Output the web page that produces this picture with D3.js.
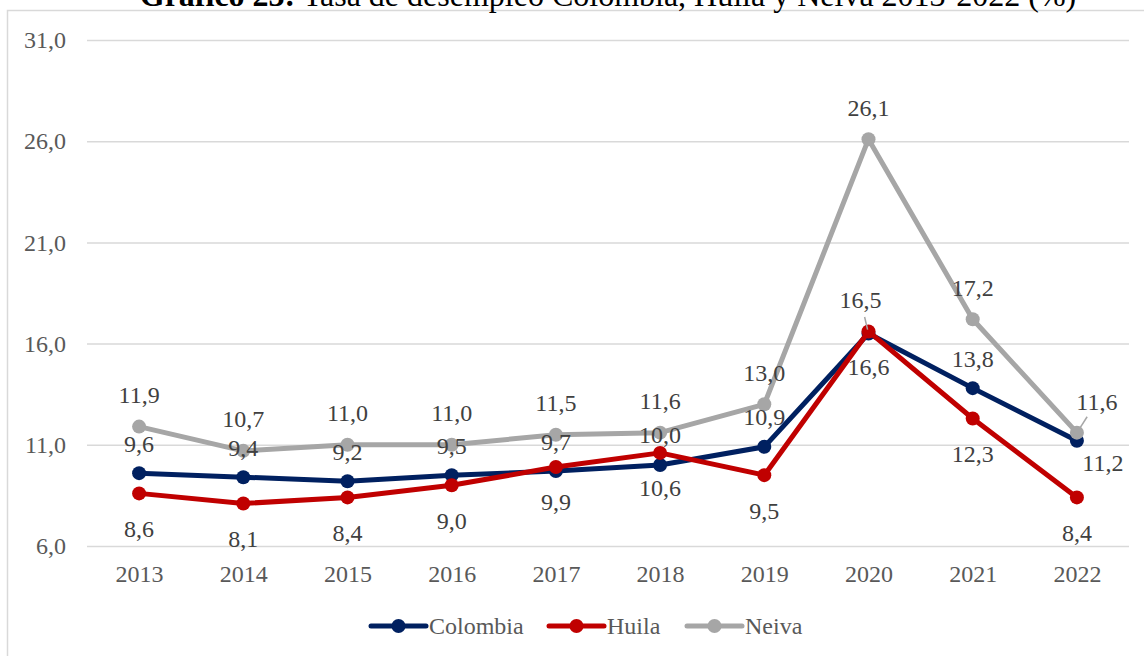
<!DOCTYPE html>
<html>
<head>
<meta charset="utf-8">
<script src="https://cdn.jsdelivr.net/npm/d3@7"></script>
<style>
  body { margin: 0; background: #fff; }
  svg { display: block; font-family: "Liberation Serif", "Times New Roman", serif; }
</style>
</head>
<body>
<svg id="chart" width="1144" height="656"></svg>
<script>
const years = ["2013","2014","2015","2016","2017","2018","2019","2020","2021","2022"];
const colombia = [9.6, 9.4, 9.2, 9.5, 9.7, 10.0, 10.9, 16.5, 13.8, 11.2];
const huila    = [8.6, 8.1, 8.4, 9.0, 9.9, 10.6, 9.5, 16.6, 12.3, 8.4];
const neiva    = [11.9, 10.7, 11.0, 11.0, 11.5, 11.6, 13.0, 26.1, 17.2, 11.6];
const yTicks   = [6, 11, 16, 21, 26, 31];
const seriesNames = ["Colombia", "Huila", "Neiva"];

const colors = { Colombia: "#002060", Huila: "#C00000", Neiva: "#A6A6A6" };
const series = [
  { name: "Colombia", values: colombia, dy: -30 },
  { name: "Huila", values: huila, dy: 35 },
  { name: "Neiva", values: neiva, dy: -32 }
];
// label adjustments: [series, yearIndex] -> {dx, dy, leader}
const special = {
  "Colombia-7": { dx: -8, dy: -34, leader: true },
  "Colombia-9": { dx: 26, dy: 22 },
  "Neiva-9": { dx: 20, dy: -31, leader: true }
};

const svg = d3.select("#chart");
const fmt = v => v.toFixed(1).replace(".", ",");
const FS = 24;

// frame
svg.append("rect").attr("x", 7.5).attr("y", 10.5).attr("width", 1200).attr("height", 700)
  .attr("fill", "none").attr("stroke", "#d9d9d9").attr("stroke-width", 1.5);

// title
const title = svg.append("text").attr("x", 608).attr("y", 6).attr("text-anchor", "middle")
  .attr("font-size", 32).attr("fill", "#000");
title.append("tspan").attr("font-weight", "bold").text("Gráfico 23:");
title.append("tspan").text(" Tasa de desempleo Colombia, Huila y Neiva 2013-2022 (%)");

const x = d3.scalePoint().domain(years).range([87, 1129]).padding(0.5);
const y = d3.scaleLinear().domain([6, 31]).range([546, 40]);

// grid
const yAxis = d3.axisLeft(y).tickValues(yTicks).tickSize(-(1129 - 87)).tickPadding(21).tickFormat(fmt);
const gy = svg.append("g").attr("transform", "translate(87,0)").call(yAxis);
gy.select(".domain").remove();
gy.selectAll(".tick line").attr("stroke", "#d9d9d9").attr("stroke-width", 1.5);
gy.selectAll(".tick text").attr("font-size", FS).attr("fill", "#595959")
  .attr("font-family", "Liberation Serif");

const xAxis = d3.axisBottom(x).tickSize(0).tickPadding(19);
const gx = svg.append("g").attr("transform", "translate(0,546)").call(xAxis);
gx.select(".domain").remove();
gx.selectAll(".tick text").attr("font-size", FS).attr("fill", "#595959")
  .attr("font-family", "Liberation Serif");

const line = d3.line().x((d, i) => x(years[i])).y(d => y(d));

series.forEach(s => {
  svg.append("path").datum(s.values).attr("d", line)
    .attr("fill", "none").attr("stroke", colors[s.name]).attr("stroke-width", 5)
    .attr("stroke-linejoin", "round");
  svg.append("g").selectAll("circle").data(s.values).join("circle")
    .attr("cx", (d, i) => x(years[i])).attr("cy", d => y(d)).attr("r", 7)
    .attr("fill", colors[s.name]);
});

// labels
series.forEach(s => {
  s.values.forEach((v, i) => {
    const sp = special[s.name + "-" + i];
    const px = x(years[i]), py = y(v);
    const dx = sp ? sp.dx : 0, dy = sp ? sp.dy : s.dy;
    if (sp && sp.leader) {
      const lx = px + dx, ly = py + dy;
      const ang = Math.atan2(ly - py, lx - px);
      const x1 = px + Math.cos(ang) * 4, y1 = py + Math.sin(ang) * 4;
      const len = Math.hypot(lx - px, ly - py) - 18;
      svg.append("line").attr("x1", x1).attr("y1", y1)
        .attr("x2", px + Math.cos(ang) * len).attr("y2", py + Math.sin(ang) * len)
        .attr("stroke", "#A6A6A6").attr("stroke-width", 1.5);
    }
    svg.append("text").attr("x", px + dx).attr("y", py + dy).attr("dy", "0.35em")
      .attr("text-anchor", "middle").attr("font-size", FS).attr("fill", "#404040")
      .text(fmt(v));
  });
});

// legend
const legendX = { Colombia: 371, Huila: 549, Neiva: 687 };
seriesNames.forEach(n => {
  const lx = legendX[n], ly = 626;
  const g = svg.append("g");
  g.append("line").attr("x1", lx).attr("x2", lx + 55).attr("y1", ly).attr("y2", ly)
    .attr("stroke", colors[n]).attr("stroke-width", 5).attr("stroke-linecap", "round");
  g.append("circle").attr("cx", lx + 27.5).attr("cy", ly).attr("r", 7).attr("fill", colors[n]);
  g.append("text").attr("x", lx + 58).attr("y", ly).attr("dy", "0.35em")
    .attr("font-size", FS).attr("fill", "#595959").text(n);
});
</script>
</body>
</html>
